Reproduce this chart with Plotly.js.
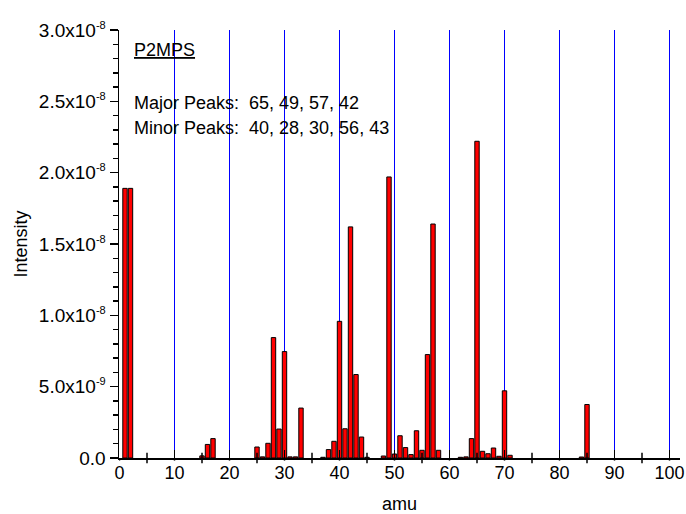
<!DOCTYPE html>
<html>
<head>
<meta charset="utf-8">
<script src="https://cdn.plot.ly/plotly-3.0.1.min.js"></script>
<style>html,body{margin:0;padding:0;background:#fff;}#chart{width:686px;height:514px;}</style>
</head>
<body>
<div id="chart"></div>
<script>
// Mass numbers (amu) with a measurable signal
const amu = [1, 2, 15, 16, 17, 25, 26, 27, 28, 29, 30, 31, 32, 33, 37, 38, 39, 40, 41, 42, 43, 44, 45, 48, 49, 50, 51, 52, 53, 54, 55, 56, 57, 58, 62, 63, 64, 65, 66, 67, 68, 69, 70, 71, 84, 85];
// Intensity at each amu
const intensity = [1.89e-8, 1.89e-8, 0.15e-9, 0.95e-9, 1.36e-9, 0.77e-9, 0.08e-9, 1.03e-9, 8.44e-9, 2.03e-9, 7.46e-9, 0.08e-9, 0.08e-9, 3.5e-9, 0.05e-9, 0.59e-9, 1.17e-9, 9.58e-9, 2.05e-9, 1.62e-8, 5.85e-9, 1.47e-9, 0.05e-9, 0.14e-9, 1.97e-8, 0.28e-9, 1.56e-9, 0.73e-9, 0.24e-9, 1.91e-9, 0.54e-9, 7.25e-9, 1.64e-8, 0.54e-9, 0.05e-9, 0.08e-9, 1.36e-9, 2.22e-8, 0.47e-9, 0.3e-9, 0.7e-9, 0.12e-9, 4.71e-9, 0.19e-9, 0.07e-9, 3.75e-9];
// Axis ticks
const xTicks = [0, 10, 20, 30, 40, 50, 60, 70, 80, 90, 100];
const xMinorTicks = [5, 15, 25, 35, 45, 55, 65, 75, 85, 95];
const yTickVals = [0, 5e-9, 1e-8, 1.5e-8, 2e-8, 2.5e-8, 3e-8];
const yMantissa = ["0.0", "5.0", "1.0", "1.5", "2.0", "2.5", "3.0"];
const yExponent = [null, -9, -8, -8, -8, -8, -8];
// Text block
const sampleName = "P2MPS";
const majorPeaks = [65, 49, 57, 42];
const minorPeaks = [40, 28, 30, 56, 43];

const FONT = "Liberation Sans, Arial, sans-serif";
const yTickText = yMantissa.map((m, i) => yExponent[i] === null ? m :
  m + "x10<sup><span style=\"font-size:11px\">" + yExponent[i] + "</span></sup>");

const traces = [{
  type: "bar",
  x: amu,
  y: intensity,
  width: 0.8,
  marker: {color: "#ff0000", line: {color: "#000000", width: 1}},
  hoverinfo: "x+y"
}];

const layout = {
  width: 686, height: 514,
  margin: {l: 119, r: 6, t: 30, b: 56, pad: 0},
  paper_bgcolor: "#ffffff", plot_bgcolor: "#ffffff",
  showlegend: false,
  bargap: 0,
  font: {family: FONT, color: "#000000", size: 18},
  xaxis: {
    range: [-0.0909, 101.9091], autorange: false,
    tickmode: "array", tickvals: xTicks, ticktext: xTicks.map(String),
    ticks: "inside", ticklen: 8, tickwidth: 1.5, tickcolor: "#000",
    showgrid: true, gridcolor: "#0000ff", gridwidth: 1,
    showline: true, linecolor: "#000", linewidth: 1.5,
    zeroline: false,
    tickfont: {family: FONT, size: 18, color: "#000"},
    ticklabelstandoff: -2,
    title: {text: "amu", font: {family: FONT, size: 18, color: "#000"}, standoff: 19}
  },
  yaxis: {
    range: [0, 3e-8], autorange: false,
    tickmode: "array", tickvals: yTickVals, ticktext: yTickText,
    ticks: "outside", ticklen: 8, tickwidth: 1.5, tickcolor: "#000",
    minor: {tick0: 0, dtick: 1e-9, ticks: "outside", ticklen: 5, tickwidth: 1.5, tickcolor: "#000", showgrid: false},
    showgrid: false,
    showline: true, linecolor: "#000", linewidth: 1.5,
    zeroline: false,
    tickfont: {family: FONT, size: 19, color: "#000"},
    title: {text: "Intensity", font: {family: FONT, size: 18, color: "#000"}, standoff: 6}
  },
  shapes: xMinorTicks.map(v => ({type: "line", xref: "x", yref: "paper", x0: v, x1: v, y0: -0.012, y1: 0.012, line: {color: "#000", width: 1.5}}))
    .concat(xTicks.map(v => ({type: "line", xref: "x", yref: "paper", x0: v, x1: v, y0: -0.006, y1: 0, line: {color: "#000", width: 1.5}}))),
  annotations: [
    {xref: "paper", yref: "paper", x: 0.023, y: 0.953, xanchor: "left", yanchor: "middle", showarrow: false,
     text: "<u>" + sampleName + "</u>", font: {family: FONT, size: 18, color: "#000"}},
    {xref: "paper", yref: "paper", x: 0.023, y: 0.829, xanchor: "left", yanchor: "middle", showarrow: false,
     text: "Major Peaks:\u00a0 " + majorPeaks.join(", "), font: {family: FONT, size: 18, color: "#000"}},
    {xref: "paper", yref: "paper", x: 0.023, y: 0.770, xanchor: "left", yanchor: "middle", showarrow: false,
     text: "Minor Peaks:\u00a0 " + minorPeaks.join(", "), font: {family: FONT, size: 18, color: "#000"}}
  ]
};

Plotly.newPlot("chart", traces, layout, {staticPlot: true, displayModeBar: false});
</script>
</body>
</html>
